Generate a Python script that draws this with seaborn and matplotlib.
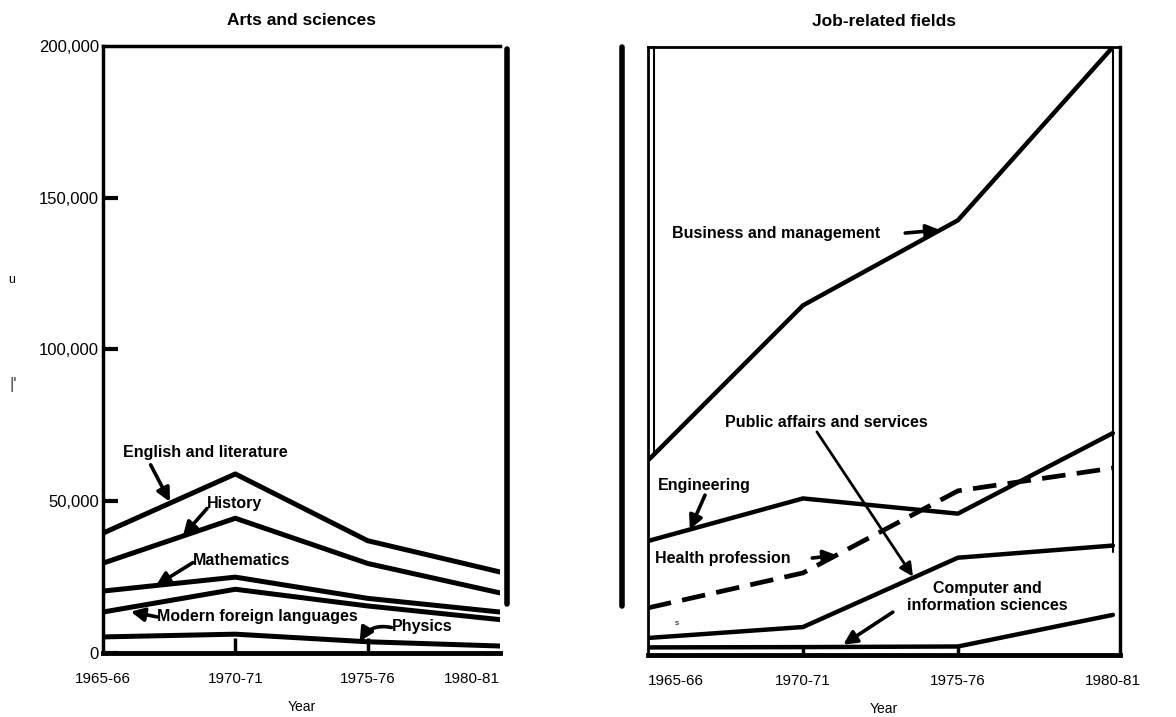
import numpy as np
import pandas as pd
import matplotlib
matplotlib.use("Agg")
import matplotlib.pyplot as plt
import seaborn as sns

# Degrees conferred, by field
years = [1965, 1970, 1975, 1980]
year_labels = ["1965-66", "1970-71", "1975-76", "1980-81"]

english = [39500, 59000, 37000, 26700]
history = [29600, 44400, 29500, 19800]
mathematics = [20400, 25000, 18000, 13500]
foreign_lang = [13500, 21000, 15500, 11000]
physics = [5300, 6200, 3700, 2300]

business = [64000, 115000, 143000, 200000]
engineering = [37500, 51500, 46500, 73000]
health = [15500, 27000, 54000, 61500]
public_affairs = [5600, 9200, 32000, 36000]
computer = [2500, 2600, 2800, 13200]

y_ticks = [0, 50000, 100000, 150000, 200000]
y_tick_labels = ["0", "50,000", "100,000", "150,000", "200,000"]

sns.set_theme(style="white")
plt.rcParams["font.family"] = ["Liberation Sans", "DejaVu Sans"]
plt.rcParams.update({"text.color": "black", "axes.labelcolor": "black",
                     "xtick.color": "black", "ytick.color": "black"})

fig = plt.figure(figsize=(11.76, 7.17), dpi=100)
ax1 = fig.add_axes([103 / 1176, 1 - 653 / 717, 397 / 1176, 607 / 717])
ax2 = fig.add_axes([648 / 1176, 1 - 655 / 717, 472 / 1176, 608 / 717])

LW = 3.6
for vals in [english, history, mathematics, foreign_lang, physics]:
    sns.lineplot(x=years, y=vals, ax=ax1, color="black", lw=LW)

for vals in [business, engineering, public_affairs, computer]:
    sns.lineplot(x=years, y=vals, ax=ax2, color="black", lw=3.2)
sns.lineplot(x=years, y=health, ax=ax2, color="black", lw=3.4)
ax2.lines[-1].set_linestyle((0, (5, 2.4)))

ax1.set_xlim(1965, 1980)
ax2.set_xlim(1965, 1980.23)
for ax in (ax1, ax2):
    ax.set_ylim(0, 200000)
    ax.set_xticks(years)
    ax.set_xticklabels(year_labels, fontsize=11)
    ax.set_xlabel("Year", fontsize=10, labelpad=10)
    ax.grid(False)
    for s in ax.spines.values():
        s.set_color("black")

# left panel frame and ticks
ax1.set_yticks(y_ticks)
ax1.set_yticklabels(y_tick_labels, fontsize=12)
ax1.tick_params(axis="y", left=True, direction="in", length=11, width=3,
                color="black", pad=3)
ax1.tick_params(axis="x", bottom=True, direction="in", length=11, width=2.5,
                color="black", pad=14)
ax1.spines["left"].set_linewidth(2.5)
ax1.spines["top"].set_linewidth(2.5)
ax1.spines["bottom"].set_linewidth(3.5)
ax1.spines["right"].set_visible(False)
ax1.plot([1.018, 1.018], [0.08, 0.995], transform=ax1.transAxes, color="black",
         lw=4, clip_on=False)
ax1.get_xticklabels()[-1].set_horizontalalignment("right")
ax1.yaxis.get_major_ticks()[-1].tick1line.set_visible(False)

# right panel frame and ticks
ax2.set_yticks([])
ax2.tick_params(axis="x", bottom=True, direction="in", length=6, width=2.5,
                color="black", pad=14)
ax2.spines["left"].set_linewidth(2)
ax2.spines["top"].set_linewidth(2)
ax2.spines["right"].set_linewidth(2.5)
ax2.spines["bottom"].set_linewidth(3.5)
ax2.plot([-0.055, -0.055], [0.08, 1.0], transform=ax2.transAxes, color="black",
         lw=4, clip_on=False)
ax2.plot([0.012, 0.012], [0.33, 1.0], transform=ax2.transAxes, color="black",
         lw=1.5, clip_on=False)
ax2.plot([0.986, 0.986], [0.17, 0.995], transform=ax2.transAxes, color="black",
         lw=1.5, clip_on=False)
ax2.get_xticklabels()[0].set_horizontalalignment("left")

for ax in (ax1, ax2):
    ticks = ax.xaxis.get_major_ticks()
    for t in (ticks[0], ticks[-1]):
        t.tick1line.set_visible(False)

ax1.set_title("Arts and sciences", fontsize=12.5, fontweight="bold", pad=15)
ax2.set_title("Job-related fields", fontsize=12.5, fontweight="bold", pad=15)

arrow = dict(arrowstyle="-|>", color="black", lw=2.6, mutation_scale=20,
             shrinkA=0, shrinkB=0)
tk = dict(fontsize=11.5, fontweight="bold", color="black", va="center", ha="left")

# left annotations
ax1.text(1965.76, 65900, "English and literature", **tk)
ax1.annotate("", xy=(1967.53, 49800), xytext=(1966.8, 62000), arrowprops=arrow)
ax1.text(1968.93, 49400, "History", **tk)
ax1.annotate("", xy=(1968.02, 38600), xytext=(1968.93, 47600), arrowprops=arrow)
ax1.text(1968.4, 30600, "Mathematics", **tk)
ax1.annotate("", xy=(1967.0, 22200), xytext=(1968.4, 29800), arrowprops=arrow)
ax1.text(1967.04, 11900, "Modern foreign languages", **tk)
ax1.annotate("", xy=(1966.05, 13600), xytext=(1967.04, 11900), arrowprops=arrow)
ax1.text(1975.9, 8600, "Physics", **tk)
ax1.annotate("", xy=(1974.7, 3800), xytext=(1975.9, 8400),
             arrowprops=dict(arrow, connectionstyle="arc3,rad=0.35"))

# right annotations
ax2.text(1965.77, 138800, "Business and management", **tk)
ax2.annotate("", xy=(1974.42, 139800), xytext=(1973.3, 138800), arrowprops=arrow)
ax2.text(1967.48, 76600, "Public affairs and services", **tk)
ax2.annotate("", xy=(1973.55, 25800), xytext=(1970.45, 73400),
             arrowprops=dict(arrow, lw=2.0))
ax2.text(1965.32, 55900, "Engineering", **tk)
ax2.annotate("", xy=(1966.35, 41300), xytext=(1966.84, 52600), arrowprops=arrow)
ax2.text(1965.23, 31900, "Health profession", **tk)
ax2.annotate("", xy=(1971.1, 32800), xytext=(1970.3, 31900), arrowprops=arrow)
ax2.text(1975.94, 19000, "Computer and\ninformation sciences", fontsize=11.5,
         fontweight="bold", ha="center", va="center", linespacing=1.15)
ax2.annotate("", xy=(1971.3, 3400), xytext=(1972.9, 14100), arrowprops=arrow)
ax2.text(1965.94, 10500, "s", fontsize=6, ha="center", va="center")

# stray marks from the scan
fig.text(12 / 1176, 1 - 280 / 717, "u", fontsize=9, ha="center", va="center")
fig.text(13 / 1176, 1 - 385 / 717, "|'", fontsize=12, ha="center", va="center",
         color="#444444")

fig.savefig("out.png", dpi=100)
